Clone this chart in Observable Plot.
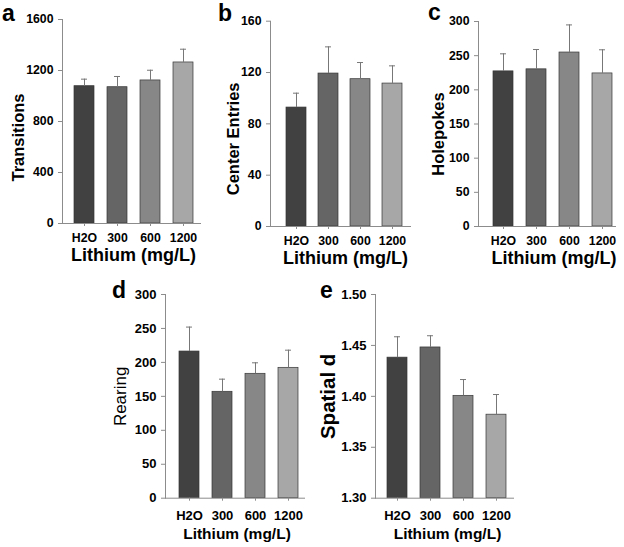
<!DOCTYPE html>
<html><head><meta charset="utf-8">
<script src="https://cdn.jsdelivr.net/npm/d3@7"></script>
<script src="https://cdn.jsdelivr.net/npm/@observablehq/plot@0.6"></script>
<style>
body{margin:0;background:#fff}
#fig{position:relative;width:624px;height:547px;font-family:"Liberation Sans",Arial,sans-serif;overflow:hidden}
#fig svg{position:absolute;overflow:visible}
#fig svg.row1 g[aria-label$="tick label"] text{font-size:12.3px !important;font-weight:bold !important}
#fig svg.row2 g[aria-label$="tick label"] text{font-size:13px !important;font-weight:bold !important}
.lab{position:absolute;font-weight:bold;font-size:23px;line-height:1;color:#000}
</style></head><body><div id="fig"></div>
<script>
const categories = ["H2O", "300", "600", "1200"];
const barColors = ["#414141", "#656565", "#878787", "#a7a7a7"];
const xTitle = "Lithium (mg/L)";

const transitionsMean = [1077, 1069, 1122, 1263];
const transitionsSem  = [55, 84, 80, 104];
const transitionsTicks = [0, 400, 800, 1200, 1600];

const centerMean = [92.7, 119.2, 114.8, 111.4];
const centerSem  = [11.2, 20.8, 13.0, 13.8];
const centerTicks = [0, 40, 80, 120, 160];

const holepokesMean = [227, 230, 254.6, 224];
const holepokesSem  = [25.7, 29, 40.4, 34.6];
const holepokesTicks = [0, 50, 100, 150, 200, 250, 300];

const rearingMean = [216, 156.7, 183.2, 192];
const rearingSem  = [36, 18.6, 16.2, 26];
const rearingTicks = [0, 50, 100, 150, 200, 250, 300];

const spatialMean = [1.438, 1.448, 1.4005, 1.382];
const spatialSem  = [0.0205, 0.0115, 0.016, 0.0198];
const spatialTicks = [1.30, 1.35, 1.40, 1.45, 1.50];

const fig = document.getElementById("fig");

function makePanel(p) {
  const data = categories.map((c, i) => ({cat: c, mean: p.mean[i], sem: p.sem[i]}));
  const dom = [p.ticks[0], p.ticks[p.ticks.length - 1]];
  const chart = Plot.plot({
    width: p.width, height: p.height,
    marginLeft: p.ml, marginRight: p.mr, marginTop: p.mt, marginBottom: p.mb,
    style: {fontFamily: "Liberation Sans, Arial, sans-serif", fontWeight: "bold", fontSize: p.tickFont + "px", background: "transparent", overflow: "visible", color: "#000"},
    x: {domain: categories, range: p.xr, paddingInner: 0.39, paddingOuter: 0, axis: null},
    y: {domain: dom, axis: null},
    color: {domain: categories, range: barColors},
    marks: [
      Plot.barY(data, {x: "cat", y1: dom[0], y2: "mean", fill: "cat", stroke: "#363636", strokeWidth: 0.7}),
      Plot.ruleX(data, {x: "cat", y1: "mean", y2: d => d.mean + d.sem, stroke: "#777"}),
      Plot.tickY(data, {x: "cat", y: d => d.mean + d.sem, stroke: "#777", insetLeft: 7, insetRight: 7}),
      Plot.frame({anchor: "left", stroke: "#8c8c8c"}),
      Plot.frame({anchor: "bottom", stroke: "#8c8c8c"}),
      Plot.axisY(p.ticks, {tickSize: 4, tickPadding: 5, tickFormat: p.fmt, stroke: "#8c8c8c", fill: "#000", label: null, fontSize: p.tickFont, fontWeight: "bold"}),
      Plot.axisX({tickSize: 3, tickPadding: p.xtp, stroke: "#8c8c8c", fill: "#000", label: null, fontSize: p.tickFont, fontWeight: "bold"}),
      Plot.text([p.ylabel], {text: d => d, frameAnchor: "left", textAnchor: "middle", lineAnchor: "middle", rotate: -90, dx: p.ydx, dy: p.ydy, fontSize: p.ylFont, fontWeight: p.ylWeight, fill: "#000"}),
      Plot.text([xTitle], {text: d => d, frameAnchor: "bottom", textAnchor: "middle", lineAnchor: "middle", dx: p.xdx, dy: p.xdy, fontSize: p.xlFont, fontWeight: "bold", fill: "#000"})
    ]
  });
  chart.classList.add(p.row);
  chart.style.left = p.left + "px";
  chart.style.top = p.top + "px";
  fig.appendChild(chart);
  const lab = document.createElement("div");
  lab.className = "lab";
  lab.textContent = p.letter;
  lab.style.left = p.lx + "px";
  lab.style.top = p.ly + "px";
  fig.appendChild(lab);
}

const panels = [
  {row: "row1", letter: "a", lx: 2, ly: 2, left: 0, top: 0, width: 205, height: 270, ml: 62, mr: 5, mt: 19, mb: 47, xr: [74, 194],
   mean: transitionsMean, sem: transitionsSem, ticks: transitionsTicks, fmt: d3.format("d"),
   ylabel: "Transitions", ydx: -44, ydy: 16, ylFont: 16.5, ylWeight: "bold", xdx: 2, xdy: 32, xlFont: 18, xtp: 7, tickFont: 12.3},
  {row: "row1", letter: "b", lx: 218, ly: 2, left: 205, top: 0, width: 205, height: 270, ml: 65, mr: 0, mt: 20.7, mb: 44, xr: [79.3, 198],
   mean: centerMean, sem: centerSem, ticks: centerTicks, fmt: d3.format("d"),
   ylabel: "Center Entries", ydx: -37, ydy: 15, ylFont: 16.5, ylWeight: "bold", xdx: 5, xdy: 32, xlFont: 18, xtp: 7, tickFont: 12.3},
  {row: "row1", letter: "c", lx: 428, ly: 1, left: 410, top: 0, width: 214, height: 270, ml: 68, mr: 9, mt: 21, mb: 44, xr: [82.7, 202],
   mean: holepokesMean, sem: holepokesSem, ticks: holepokesTicks, fmt: d3.format("d"),
   ylabel: "Holepokes", ydx: -40, ydy: 10, ylFont: 16.5, ylWeight: "bold", xdx: 7, xdy: 32, xlFont: 18, xtp: 7, tickFont: 12.3},
  {row: "row2", letter: "d", lx: 112, ly: 279, left: 60, top: 270, width: 250, height: 277, ml: 105, mr: 6, mt: 24, mb: 49.3, xr: [118.3, 238],
   mean: rearingMean, sem: rearingSem, ticks: rearingTicks, fmt: d3.format("d"),
   ylabel: "Rearing", ydx: -45, ydy: 0, ylFont: 17, ylWeight: "normal", xdx: 2, xdy: 36, xlFont: 15.5, xtp: 10, tickFont: 13},
  {row: "row2", letter: "e", lx: 320, ly: 279, left: 310, top: 270, width: 230, height: 277, ml: 65, mr: 27, mt: 24, mb: 49.3, xr: [76.7, 196.7],
   mean: spatialMean, sem: spatialSem, ticks: spatialTicks, fmt: d3.format(".2f"),
   ylabel: "Spatial d", ydx: -47, ydy: 0, ylFont: 20.5, ylWeight: "bold", xdx: 3, xdy: 36, xlFont: 15.5, xtp: 10, tickFont: 13}
];
panels.forEach(makePanel);
</script>
</body></html>
